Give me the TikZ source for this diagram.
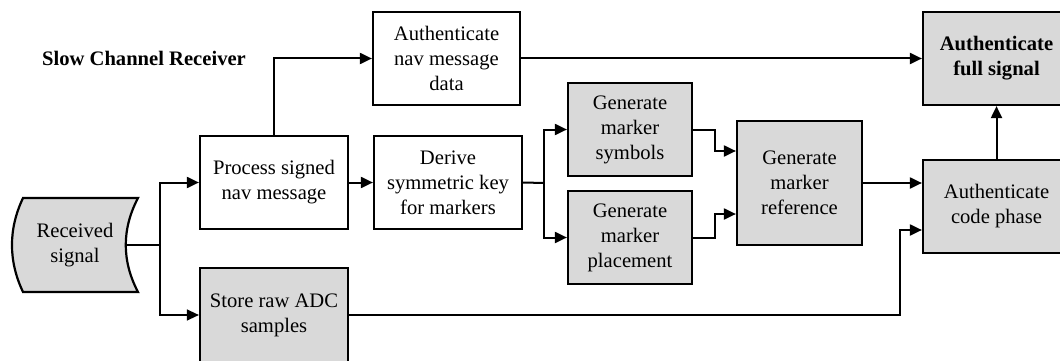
\documentclass[tikz,border=0pt]{standalone}
\usepackage{fontspec}
\setmainfont{Liberation Serif}
\usetikzlibrary{arrows.meta,calc}
\definecolor{boxgray}{RGB}{217,217,217}
\tikzset{
  stepbox/.style={draw=black, line width=2.2pt, align=center, inner sep=2pt,
    font=\fontsize{20.6}{25}\selectfont},
  whitebox/.style={stepbox, fill=white},
  graybox/.style={stepbox, fill=boxgray},
  link/.style={line width=2pt, -{Triangle[length=12pt,width=11pt]}},
  thinlink/.style={line width=1.3pt, -{Triangle[length=12pt,width=11pt]}},
}
\begin{document}
\begin{tikzpicture}[x=1pt,y=-1pt]
\useasboundingbox (0,0) rectangle (1060,361);
\clip (0,0) rectangle (1060,361);

% received signal: stored-data shape
\draw[line width=2.2pt, fill=boxgray] (23,198) -- (138,198)
  .. controls (121.7,229) and (121.7,261) .. (138,292)
  -- (23,292)
  .. controls (8.3,261) and (8.3,229) .. (23,198) -- cycle;
\node[align=center, font=\fontsize{20.6}{25}\selectfont] (recv) at (75,245) {Received\\signal};
\coordinate (recvout) at (125,245);

\node[font=\bfseries\fontsize{20.6}{24}\selectfont] (title) at (144,58) {Slow Channel Receiver};

% processing blocks
\node[whitebox, minimum width=148pt, minimum height=93pt] (proc) at (274,182.5) {Process signed\\nav message};
\node[whitebox, minimum width=148pt, minimum height=93pt] (derive) at (448,182.5) {Derive\\symmetric key\\for markers};
\node[whitebox, minimum width=147pt, minimum height=93pt] (authnav) at (446.5,58.5) {Authenticate\\nav message\\data};
\node[graybox, minimum width=148pt, minimum height=94pt] (store) at (274,315) {Store raw ADC\\samples};
\node[graybox, minimum width=124pt, minimum height=93pt] (gsym) at (630,129.5) {Generate\\marker\\symbols};
\node[graybox, minimum width=124pt, minimum height=93pt] (gplace) at (630,237.5) {Generate\\marker\\placement};
\node[graybox, minimum width=125pt, minimum height=124pt] (gref) at (799.5,183) {Generate\\marker\\reference};
\node[graybox, minimum width=147pt, minimum height=93pt, font=\bfseries\fontsize{20.6}{25}\selectfont] (afull) at (996.5,58.5) {Authenticate\\full signal};
\node[graybox, minimum width=147pt, minimum height=93pt] (acode) at (996.5,206.5) {Authenticate\\code phase};

% junctions, bends and entry points
\coordinate (j1) at (160,245);
\coordinate (j2) at (544,183);
\coordinate (inA) at ($(gref.west)+(0,-32)$);
\coordinate (inB) at ($(gref.west)+(0,31)$);
\coordinate (inC) at ($(acode.west)+(0,23.5)$);
\coordinate (bA) at (715,0);
\coordinate (bC) at (900,0);

% connectors
\draw[line width=2pt] (recvout) -- (j1);
\draw[link] (j1) |- (proc.west);
\draw[thinlink] (j1) |- (store.west);
\draw[link] (proc.north) |- (authnav.west);
\draw[link] (authnav.east) -- (afull.west);
\draw[link] (proc.east) -- (derive.west);
\draw[line width=2pt] (derive.east) -- (j2);
\draw[link] (j2) |- (gsym.west);
\draw[link] (j2) |- (gplace.west);
\draw[link] (gsym.east) -| (bA |- inA) -- (inA);
\draw[link] (gplace.east) -| (bA |- inB) -- (inB);
\draw[link] (gref.east) -- (gref.east -| acode.west);
\draw[link] (store.east) -| (bC |- inC) -- (inC);
\draw[link] (acode.north) -- (afull.south);
\end{tikzpicture}
\end{document}
